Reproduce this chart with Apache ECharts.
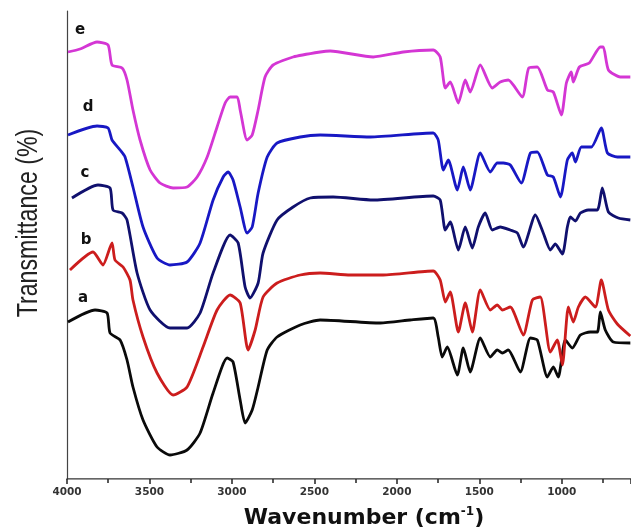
<!DOCTYPE html>
<html>
<head>
  <meta charset="UTF-8">
  <title>FTIR</title>
  <script src="https://cdn.jsdelivr.net/npm/echarts@6/dist/echarts.min.js"></script>
  <style>
    html, body { margin: 0; padding: 0; background: #fff; }
    #chart { width: 631px; height: 531px; }
  </style>
</head>
<body>
  <div id="chart"></div>
  <script>
    // wavenumber (cm-1), transmittance (a.u., offset per sample)
    const curveA = [[3994,157],[3830,169],[3757,166],[3739,146],[3678,139],[3636,119],[3600,92],[3539,59],[3454,32],[3375,24],[3272,29],[3193,46],[3114,86],[3029,121],[2993,117],[2950,79],[2920,56],[2877,69],[2841,92],[2786,129],[2726,142],[2586,154],[2465,159],[2101,156],[1919,159],[1779,161],[1749,142],[1725,122],[1694,132],[1633,104],[1597,131],[1555,107],[1494,141],[1433,122],[1391,129],[1360,126],[1324,129],[1251,107],[1190,141],[1148,139],[1087,102],[1051,112],[1021,102],[978,139],[936,131],[887,144],[827,147],[784,147],[766,167],[736,149],[687,137],[584,136]];
    const curveB = [[3982,209],[3842,227],[3782,214],[3727,236],[3709,219],[3660,212],[3618,199],[3600,179],[3539,142],[3454,106],[3357,84],[3272,92],[3175,132],[3090,169],[3011,184],[2950,176],[2902,129],[2859,149],[2811,182],[2726,196],[2586,204],[2465,206],[2283,204],[2083,204],[1779,208],[1737,199],[1706,177],[1676,187],[1627,147],[1585,176],[1542,147],[1494,189],[1433,169],[1391,174],[1360,169],[1312,172],[1233,144],[1178,179],[1130,182],[1069,127],[1027,139],[996,114],[960,172],[930,157],[899,172],[857,182],[796,172],[760,199],[717,169],[663,155],[584,143]];
    const curveC = [[3970,281],[3812,294],[3739,291],[3721,269],[3666,266],[3636,259],[3575,206],[3496,169],[3375,151],[3272,151],[3193,166],[3114,206],[3011,244],[2962,236],[2920,192],[2890,181],[2841,196],[2811,226],[2726,259],[2629,272],[2525,281],[2386,282],[2143,279],[1779,283],[1737,279],[1706,249],[1676,257],[1627,229],[1585,252],[1542,231],[1506,252],[1464,266],[1421,249],[1373,252],[1312,249],[1269,246],[1233,232],[1160,264],[1112,246],[1069,229],[1039,235],[996,225],[966,252],[948,262],[917,258],[887,266],[839,269],[784,269],[754,291],[717,267],[657,261],[584,259]];
    const curveD = [[3994,344],[3818,353],[3751,351],[3727,339],[3678,329],[3648,322],[3600,292],[3539,252],[3454,221],[3375,214],[3272,217],[3193,236],[3114,279],[3053,302],[3023,307],[2993,299],[2950,272],[2908,246],[2877,252],[2841,286],[2786,322],[2726,336],[2586,342],[2465,344],[2161,342],[1779,346],[1749,339],[1718,309],[1688,319],[1633,289],[1597,312],[1555,289],[1494,326],[1433,307],[1391,316],[1354,316],[1312,314],[1245,296],[1190,326],[1148,327],[1087,304],[1051,302],[1008,282],[966,319],[936,326],[917,317],[881,332],[820,332],[760,351],[723,326],[663,322],[584,322]];
    const curveE = [[3994,427],[3921,430],[3818,437],[3751,434],[3727,414],[3666,411],[3636,399],[3600,369],[3557,339],[3496,309],[3436,296],[3357,291],[3272,292],[3211,302],[3150,322],[3090,352],[3041,376],[3011,382],[2968,382],[2950,369],[2908,339],[2877,344],[2841,369],[2799,402],[2750,414],[2629,422],[2465,427],[2404,428],[2143,422],[1961,427],[1779,429],[1737,422],[1706,391],[1676,397],[1627,376],[1585,399],[1555,387],[1494,414],[1421,391],[1373,397],[1324,399],[1239,382],[1200,411],[1148,412],[1087,389],[1051,387],[1002,364],[972,396],[942,407],[930,397],[893,412],[833,416],[766,432],[748,432],[717,409],[645,402],[584,402]];

    const seriesNames = ['a', 'b', 'c', 'd', 'e'];
    const seriesColors = ['#0a0a0a', '#cc1d1d', '#10106e', '#1818c4', '#d436d4'];
    const curves = [curveA, curveB, curveC, curveD, curveE];
    // label positions (pixels) of the curve letters
    const letterPos = [[83, 298], [86, 240], [85, 173], [88, 107], [80, 30]];

    const chart = echarts.init(document.getElementById('chart'));

    const option = {
      animation: false,
      grid: { left: 67, right: 0, top: 11, bottom: 52, outerBoundsMode: 'none' },
      xAxis: [{
        type: 'value',
        inverse: true,
        min: 580,
        max: 4000,
        splitNumber: 7,
        name: 'Wavenumber (cm{sup|-1})',
        nameLocation: 'middle',
        nameGap: 27,
        nameTextStyle: {
          fontFamily: 'DejaVu Sans',
          fontWeight: 'bold',
          fontSize: 22,
          color: '#111',
          padding: [0, 0, 0, 30],
          rich: {
            sup: { fontFamily: 'DejaVu Sans', fontWeight: 'bold', fontSize: 12, color: '#111', verticalAlign: 'top', padding: [0, 0, 12, 0] }
          }
        },
        axisLine: { show: true, onZero: false, lineStyle: { color: '#333', width: 1.5 } },
        axisTick: { show: true, length: 5, lineStyle: { color: '#222', width: 1.5 } },
        minorTick: { show: true, splitNumber: 2, length: 4, lineStyle: { color: '#222', width: 1.5 } },
        axisLabel: {
          margin: 8,
          fontFamily: 'DejaVu Sans',
          fontWeight: 'bold',
          fontSize: 10.5,
          color: '#333',
          showMinLabel: false,
          formatter: function (v) { return String(v); }
        },
        splitLine: { show: false }
      }, {
        type: 'value',
        position: 'top',
        inverse: true,
        min: 580,
        max: 4000,
        axisLine: { show: true, lineStyle: { color: '#999', width: 1 } },
        axisTick: { show: false },
        axisLabel: { show: false },
        splitLine: { show: false }
      }],
      yAxis: {
        type: 'value',
        min: 0,
        max: 468,
        axisLine: { show: true, lineStyle: { color: '#444', width: 1.2 } },
        axisTick: { show: false },
        axisLabel: { show: false },
        splitLine: { show: false }
      },
      series: curves.map((c, i) => ({
        name: seriesNames[i],
        type: 'line',
        data: c,
        showSymbol: false,
        smooth: 0.2,
        lineStyle: { color: seriesColors[i], width: 2.8 },
        z: 2 + i
      })),
      graphic: letterPos.map((p, i) => ({
        type: 'text',
        x: p[0],
        y: p[1],
        style: {
          text: seriesNames[i],
          fontFamily: 'DejaVu Sans',
          fontWeight: 'bold',
          fontSize: 15,
          fill: '#111',
          align: 'center',
          verticalAlign: 'middle'
        }
      })).concat([{
        // y axis title, condensed along its length like the reference
        type: 'text',
        x: 29,
        y: 223,
        rotation: Math.PI / 2,
        scaleX: 0.8,
        style: {
          text: 'Transmittance (%)',
          fontFamily: 'Liberation Sans',
          fontSize: 29,
          fill: '#222',
          align: 'center',
          verticalAlign: 'middle'
        }
      }])
    };

    chart.setOption(option);
  </script>
</body>
</html>
